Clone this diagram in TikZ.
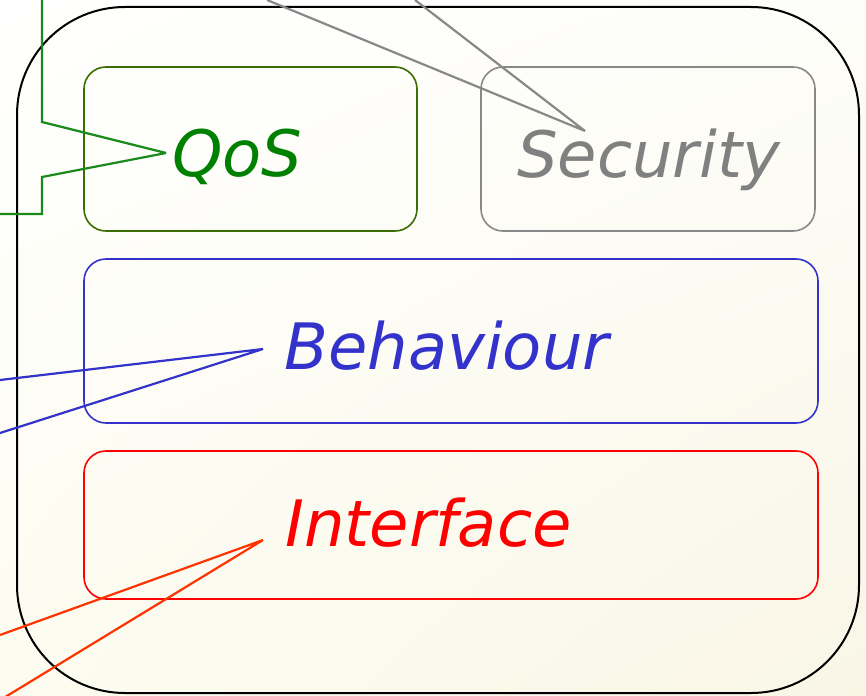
\documentclass[tikz,border=0pt]{standalone}
\usepackage{fontspec}
\setmainfont{DejaVu Sans}
\usetikzlibrary{shadings}
\begin{document}
\begin{tikzpicture}[x=1pt,y=-1pt,
  layer/.style={rounded corners=22pt, line width=1.6pt},
  lbl/.style={anchor=base west, inner sep=0pt, font=\fontsize{64}{76}\selectfont\itshape},
  link/.style={line width=2.2pt, line join=miter, miter limit=3}]
\definecolor{qosline}{HTML}{3A6E00}
\definecolor{qostext}{HTML}{008000}
\definecolor{qoslink}{HTML}{1A8A1A}
\definecolor{secline}{HTML}{888888}
\definecolor{sectext}{HTML}{808080}
\definecolor{behblue}{HTML}{3333CC}
\definecolor{intred}{HTML}{FF0000}
\definecolor{intlink}{HTML}{FF3300}
\definecolor{creamA}{HTML}{F9F6E6}
\definecolor{creamB}{HTML}{FCFCF0}
\definecolor{creamC}{HTML}{FDFDF9}

\useasboundingbox (0,0) rectangle (866,695);
\clip (0,0) rectangle (866,695);
\shade[upper left=white, upper right=creamC, lower left=creamB, lower right=creamA]
  (0,0) rectangle (866,695);

% component frame
\draw[black, line width=2pt, rounded corners=108pt] (17,7) rectangle (859,693);

% layers
\draw[layer, qosline] (84,67) rectangle (417,231);
\draw[layer, secline] (481,67) rectangle (815,231);
\draw[layer, behblue] (84,259) rectangle (818,423);
\draw[layer, intred] (84,451) rectangle (818,599);

% labels
\node[lbl, text=qostext] (qos) at (172,176) {QoS};
\node[lbl, text=sectext] (sec) at (517,177) {Security};
\node[lbl, text=behblue] (beh) at (284,369) {Behaviour};
\node[lbl, text=intred] (int) at (285,546) {Interface};

% connector tips and free ends
\coordinate (qtip) at (166,153);
\coordinate (qa) at (42,0);
\coordinate (qb) at (0,214);
\coordinate (stip) at (585,131);
\coordinate (sa) at (267,0);
\coordinate (sb) at (415,0);
\coordinate (btip) at (263,349);
\coordinate (ba) at (0,380);
\coordinate (bb) at (0,433);
\coordinate (itip) at (263,540);
\coordinate (ia) at (0,635);
\coordinate (ib) at (-3,702);

\draw[link, qoslink] (qa) -- (42,122) -- (qtip) -- (42,177) -- (42,214) -- (qb);
\draw[link, secline] (sa) -- (stip) -- (sb);
\draw[link, behblue] (ba) -- (btip) -- (bb);
\draw[link, intlink] (ia) -- (itip) -- (ib);
\end{tikzpicture}
\end{document}
